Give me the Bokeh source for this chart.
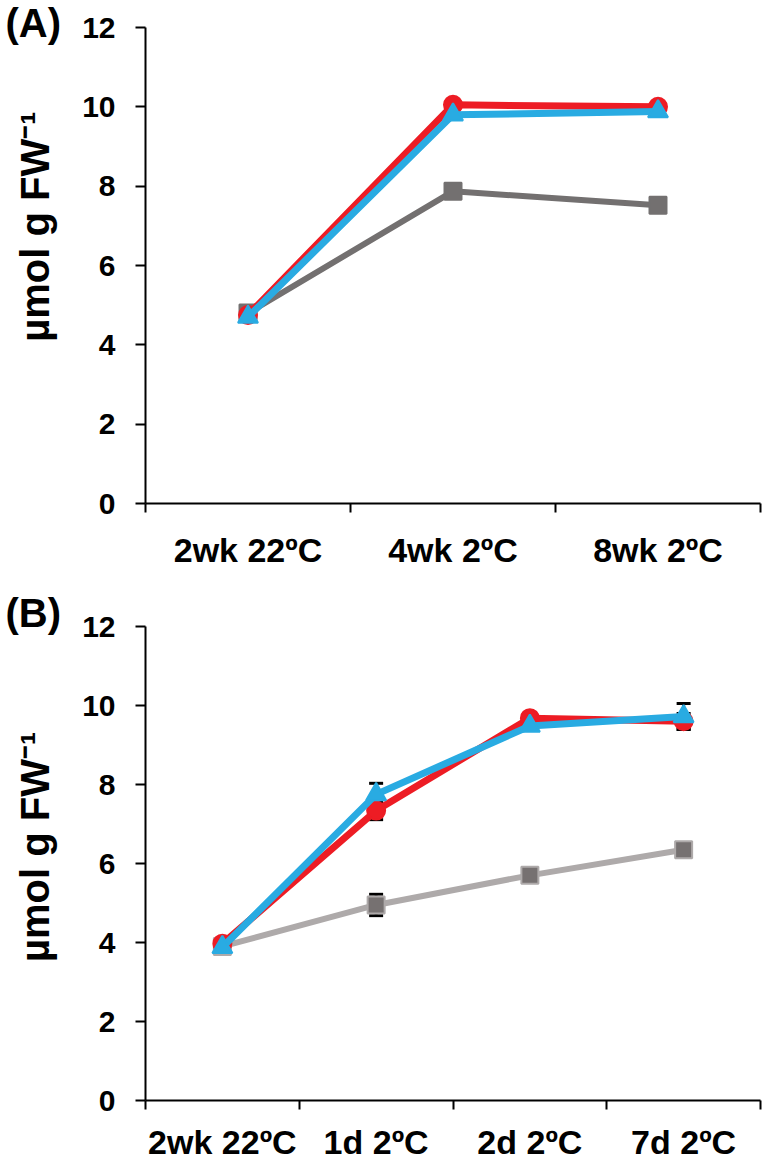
from bokeh.plotting import figure
from bokeh.models import Range1d, FixedTicker, Whisker, ColumnDataSource, TeeHead, Title
from bokeh.layouts import column
from bokeh.embed import file_html
from bokeh.resources import INLINE

# ---------------- data ----------------
y_ticks = [0, 2, 4, 6, 8, 10, 12]
y_title = "µmol g FW⁻¹"

cats_a = ["2wk 22ºC", "4wk 2ºC", "8wk 2ºC"]
a_red = [4.75, 10.05, 10.0]
a_blue = [4.70, 9.80, 9.88]
a_gray = [4.80, 7.87, 7.52]

cats_b = ["2wk 22ºC", "1d 2ºC", "2d 2ºC", "7d 2ºC"]
b_red = [3.97, 7.34, 9.68, 9.60]
b_blue = [3.88, 7.75, 9.48, 9.72]
b_gray = [3.90, 4.95, 5.70, 6.35]
b_red_err = [0.10, 0.23, 0.10, 0.20]
b_blue_err = [0.10, 0.28, 0.10, 0.33]
b_gray_err = [0.10, 0.27, 0.10, 0.10]

RED = "#ED1C24"
BLUE = "#29ABE2"
GRAY_A = "#737070"
GRAY_B_LINE = "#AEAAAA"
GRAY_B_MARK = "#767171"
FONT = "Liberation Sans"
NBSP = "\u00a0"


def base_fig(cats, height, top, bottom, xlabel_standoff, panel_text, title_standoff, label_pad):
    n = len(cats)
    p = figure(width=764, height=height, x_range=Range1d(0, n), y_range=Range1d(0, 12),
               output_backend="svg", toolbar_location=None,
               min_border_left=145, min_border_right=4,
               min_border_top=top, min_border_bottom=bottom)
    p.outline_line_color = None
    p.xgrid.visible = False
    p.ygrid.visible = False
    p.background_fill_color = "white"
    p.border_fill_color = "white"

    t = Title(text=panel_text, align="left", offset=-140, standoff=title_standoff,
              vertical_align="bottom", text_baseline="bottom",
              text_font=FONT, text_font_style="bold", text_font_size="40px",
              text_color="black")
    p.title = t

    xa = p.xaxis[0]
    centers = [i + 0.5 for i in range(n)]
    xa.ticker = FixedTicker(ticks=centers, minor_ticks=list(range(n + 1)))
    xa.major_label_overrides = {c: lab for c, lab in zip(centers, cats)}
    xa.major_tick_out = 0
    xa.major_tick_in = 0
    xa.major_tick_line_color = None
    xa.minor_tick_out = 9
    xa.minor_tick_in = 0
    xa.minor_tick_line_width = 2
    xa.minor_tick_line_color = "black"
    xa.axis_line_width = 2
    xa.axis_line_color = "black"
    xa.major_label_standoff = xlabel_standoff
    xa.major_label_text_font = FONT
    xa.major_label_text_font_style = "bold"
    xa.major_label_text_font_size = "34px"
    xa.major_label_text_color = "black"

    ya = p.yaxis[0]
    ya.ticker = FixedTicker(ticks=y_ticks)
    ya.major_tick_out = 10
    ya.major_tick_in = 0
    ya.major_tick_line_width = 2
    ya.major_tick_line_color = "black"
    ya.minor_tick_line_color = None
    ya.axis_line_width = 2
    ya.axis_line_color = "black"
    ya.major_label_standoff = 20
    ya.major_label_text_font = FONT
    ya.major_label_text_font_style = "bold"
    ya.major_label_text_font_size = "30px"
    ya.major_label_text_color = "black"
    # leading non-breaking spaces nudge the rotated title upward, as in the original
    ya.axis_label = NBSP * label_pad + y_title
    ya.axis_label_text_font = FONT
    ya.axis_label_text_font_style = "bold"
    ya.axis_label_text_font_size = "40px"
    ya.axis_label_text_color = "black"
    ya.axis_label_standoff = 22
    return p, centers


def add_series(p, xs, ys, color, marker, size, lw, fill=None, outline=None):
    p.line(xs, ys, line_color=color, line_width=lw, line_join="round")
    p.scatter(xs, ys, marker=marker, size=size,
              fill_color=fill or color, line_color=outline or color,
              line_width=2)


def add_err(p, xs, ys, errs):
    src = ColumnDataSource(dict(base=xs,
                                upper=[v + e for v, e in zip(ys, errs)],
                                lower=[v - e for v, e in zip(ys, errs)]))
    w = Whisker(base="base", upper="upper", lower="lower", source=src,
                line_width=3, line_color="black", level="underlay",
                upper_head=TeeHead(size=14, line_width=3, line_color="black"),
                lower_head=TeeHead(size=14, line_width=3, line_color="black"))
    p.add_layout(w)


# ---------------- panel A ----------------
pa, xa_c = base_fig(cats_a, 583, 27, 80, 18, "(A)", -34, 7)
add_series(pa, xa_c, a_gray, GRAY_A, "square", 17, 6)
add_series(pa, xa_c, a_red, RED, "circle", 18, 7)
add_series(pa, xa_c, a_blue, BLUE, "triangle", 20, 7)

# ---------------- panel B ----------------
pb, xb_c = base_fig(cats_b, 583, 43, 66, 13, "(B)", -16, 3)
add_err(pb, xb_c, b_gray, b_gray_err)
add_err(pb, xb_c, b_red, b_red_err)
add_err(pb, xb_c, b_blue, b_blue_err)
add_series(pb, xb_c, b_gray, GRAY_B_LINE, "square", 17, 6, fill=GRAY_B_MARK, outline=GRAY_B_LINE)
add_series(pb, xb_c, b_red, RED, "circle", 18, 7)
add_series(pb, xb_c, b_blue, BLUE, "triangle", 20, 7)

layout = column(pa, pb)
open("out.html", "w").write(file_html(layout, INLINE))
